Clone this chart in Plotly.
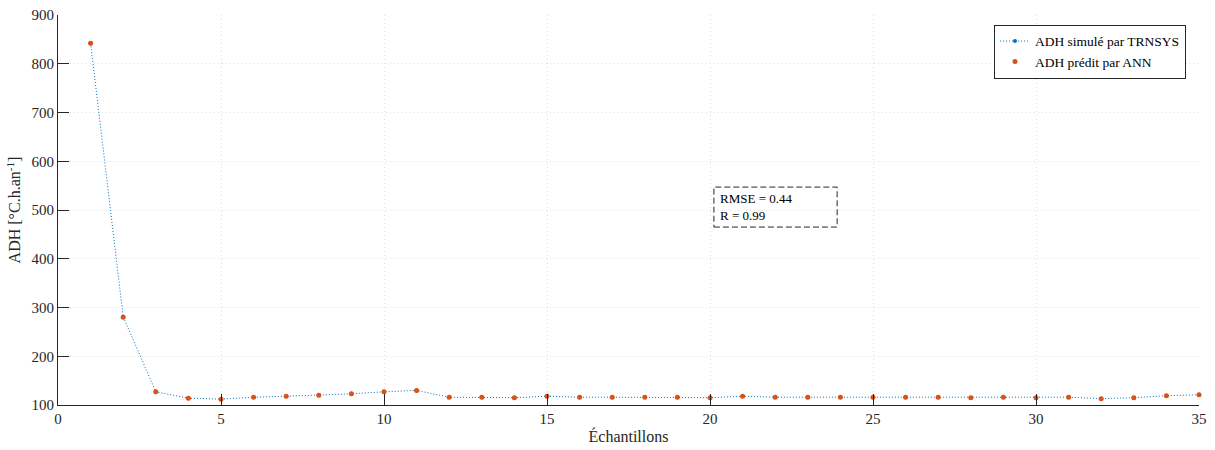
import plotly.graph_objects as go

samples = list(range(1, 36))
adh_trnsys = [842, 281, 127, 114, 112, 116, 118, 120, 123, 127, 130, 116, 116, 115, 118,
              116, 116, 116, 116, 115, 118, 116, 116, 116, 116, 116, 116, 115, 116, 115,
              116, 113, 115, 119, 121]
adh_ann = [842, 280, 127, 114, 112, 116, 118, 120, 123, 127, 130, 116, 116, 115, 118,
           116, 116, 116, 116, 115, 118, 116, 116, 116, 116, 116, 116, 115, 116, 115,
           116, 113, 115, 119, 121]
x_ticks = [0, 5, 10, 15, 20, 25, 30, 35]
y_ticks = [100, 200, 300, 400, 500, 600, 700, 800, 900]

FONT = "Liberation Serif"
AX = "#262626"

fig = go.Figure()
fig.add_trace(go.Scatter(
    x=samples, y=adh_trnsys, mode="lines+markers",
    name="ADH simulé par TRNSYS",
    line=dict(color="#0072BD", width=1, dash="1px,2px"),
    marker=dict(color="#0072BD", size=4),
    cliponaxis=False,
))
fig.add_trace(go.Scatter(
    x=samples, y=adh_ann, mode="markers",
    name="ADH prédit par ANN",
    marker=dict(color="#D95319", size=5),
    cliponaxis=False,
))

fig.add_shape(type="rect", xref="x", yref="y", x0=20.12, x1=23.9, y0=465, y1=547,
              line=dict(color="#262626", width=1, dash="6px,3px"), fillcolor="rgba(0,0,0,0)")
fig.add_annotation(xref="x", yref="y", x=20.25, y=506, xanchor="left", yanchor="middle",
                   text="RMSE = 0.44<br>R = 0.99", showarrow=False, align="left",
                   font=dict(family=FONT, size=13, color="#000000"))

axis_common = dict(
    showline=True, linecolor=AX, linewidth=1, mirror=False,
    ticks="inside", ticklen=11, tickcolor=AX, tickwidth=1,
    showgrid=True, gridcolor="#e0e0e0", griddash="1px,3px", gridwidth=1,
    zeroline=False, automargin=False,
    tickfont=dict(family=FONT, size=15, color=AX),
)

fig.update_xaxes(range=[0, 35], tickvals=x_ticks,
                 title=dict(text="Échantillons", font=dict(family=FONT, size=16, color=AX), standoff=4),
                 **axis_common)
fig.update_yaxes(range=[100, 900], tickvals=y_ticks,
                 title=dict(text="ADH [°C.h.an<sup>-1</sup>]", font=dict(family=FONT, size=16, color=AX), standoff=6),
                 **axis_common)

fig.update_layout(
    width=1215, height=450,
    margin=dict(l=58, r=16, t=15, b=45, autoexpand=False),
    plot_bgcolor="white", paper_bgcolor="white",
    font=dict(family=FONT, size=13, color=AX),
    legend=dict(x=0.9886, y=0.975, xanchor="right", yanchor="top",
                bgcolor="white", bordercolor="#262626", borderwidth=1,
                font=dict(family=FONT, size=13.5, color="#000000"),
                tracegroupgap=0, itemwidth=30),
    showlegend=True,
)

fig.write_html("out.html", config={"displayModeBar": False},
               post_script="document.body.style.margin='0';document.body.style.padding='0';")
